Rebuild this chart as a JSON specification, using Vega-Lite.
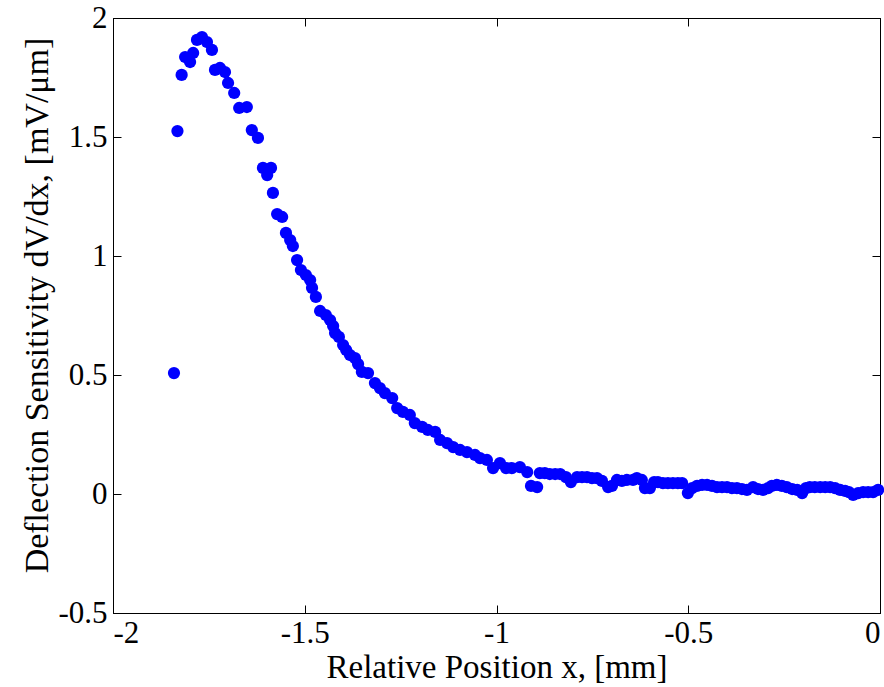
{
  "$schema": "https://vega.github.io/schema/vega-lite/v6.json",
  "width": 767,
  "height": 595,
  "autosize": "none",
  "padding": {"left": 113, "top": 18, "right": 4, "bottom": 74},
  "background": "white",
  "config": {
    "view": {"stroke": "black", "strokeWidth": 1},
    "font": "Liberation Serif",
    "axis": {
      "grid": false,
      "domainColor": "black",
      "tickColor": "black",
      "labelColor": "black",
      "titleColor": "black",
      "labelFont": "Liberation Serif",
      "titleFont": "Liberation Serif",
      "labelFontSize": 31,
      "titleFontSize": 33,
      "titleFontWeight": "normal",
      "tickSize": -8
    }
  },
  "data": {"values": [
    {"x": -1.841, "y": 0.508}, {"x": -1.832, "y": 1.525}, {"x": -1.821, "y": 1.761}, {"x": -1.812, "y": 1.836},
    {"x": -1.799, "y": 1.815}, {"x": -1.791, "y": 1.853}, {"x": -1.781, "y": 1.908}, {"x": -1.768, "y": 1.92},
    {"x": -1.755, "y": 1.899}, {"x": -1.742, "y": 1.866}, {"x": -1.734, "y": 1.782}, {"x": -1.721, "y": 1.79},
    {"x": -1.708, "y": 1.773}, {"x": -1.7, "y": 1.727}, {"x": -1.684, "y": 1.685}, {"x": -1.671, "y": 1.622},
    {"x": -1.651, "y": 1.626}, {"x": -1.638, "y": 1.529}, {"x": -1.622, "y": 1.496}, {"x": -1.609, "y": 1.37},
    {"x": -1.598, "y": 1.34}, {"x": -1.588, "y": 1.37}, {"x": -1.583, "y": 1.265}, {"x": -1.572, "y": 1.176},
    {"x": -1.559, "y": 1.164}, {"x": -1.549, "y": 1.097}, {"x": -1.538, "y": 1.067}, {"x": -1.531, "y": 1.042},
    {"x": -1.52, "y": 0.983}, {"x": -1.51, "y": 0.941}, {"x": -1.497, "y": 0.92}, {"x": -1.486, "y": 0.899},
    {"x": -1.481, "y": 0.866}, {"x": -1.471, "y": 0.828}, {"x": -1.46, "y": 0.769}, {"x": -1.445, "y": 0.752},
    {"x": -1.434, "y": 0.731}, {"x": -1.426, "y": 0.706}, {"x": -1.421, "y": 0.676}, {"x": -1.411, "y": 0.66},
    {"x": -1.4, "y": 0.626}, {"x": -1.392, "y": 0.605}, {"x": -1.382, "y": 0.584}, {"x": -1.369, "y": 0.571},
    {"x": -1.361, "y": 0.546}, {"x": -1.351, "y": 0.513}, {"x": -1.335, "y": 0.508}, {"x": -1.317, "y": 0.466},
    {"x": -1.304, "y": 0.445}, {"x": -1.291, "y": 0.424}, {"x": -1.272, "y": 0.403}, {"x": -1.259, "y": 0.361},
    {"x": -1.244, "y": 0.345}, {"x": -1.226, "y": 0.332}, {"x": -1.213, "y": 0.298}, {"x": -1.194, "y": 0.282},
    {"x": -1.179, "y": 0.269}, {"x": -1.16, "y": 0.261}, {"x": -1.147, "y": 0.227}, {"x": -1.129, "y": 0.214},
    {"x": -1.113, "y": 0.197}, {"x": -1.095, "y": 0.185}, {"x": -1.077, "y": 0.176}, {"x": -1.056, "y": 0.164},
    {"x": -1.043, "y": 0.151}, {"x": -1.025, "y": 0.143}, {"x": -1.009, "y": 0.109}, {"x": -0.991, "y": 0.13},
    {"x": -0.975, "y": 0.109}, {"x": -0.96, "y": 0.109}, {"x": -0.939, "y": 0.113}, {"x": -0.92, "y": 0.092},
    {"x": -0.91, "y": 0.034}, {"x": -0.894, "y": 0.029}, {"x": -0.887, "y": 0.088}, {"x": -0.874, "y": 0.088},
    {"x": -0.861, "y": 0.084}, {"x": -0.847, "y": 0.084}, {"x": -0.834, "y": 0.084}, {"x": -0.819, "y": 0.071},
    {"x": -0.806, "y": 0.05}, {"x": -0.79, "y": 0.071}, {"x": -0.777, "y": 0.071}, {"x": -0.764, "y": 0.071},
    {"x": -0.751, "y": 0.067}, {"x": -0.738, "y": 0.067}, {"x": -0.725, "y": 0.055}, {"x": -0.709, "y": 0.029},
    {"x": -0.699, "y": 0.034}, {"x": -0.686, "y": 0.059}, {"x": -0.673, "y": 0.055}, {"x": -0.66, "y": 0.059},
    {"x": -0.644, "y": 0.059}, {"x": -0.634, "y": 0.067}, {"x": -0.621, "y": 0.059}, {"x": -0.613, "y": 0.025},
    {"x": -0.6, "y": 0.025}, {"x": -0.589, "y": 0.05}, {"x": -0.579, "y": 0.05}, {"x": -0.566, "y": 0.046},
    {"x": -0.553, "y": 0.046}, {"x": -0.54, "y": 0.046}, {"x": -0.527, "y": 0.046}, {"x": -0.516, "y": 0.046},
    {"x": -0.501, "y": 0.004}, {"x": -0.49, "y": 0.025}, {"x": -0.477, "y": 0.034}, {"x": -0.464, "y": 0.038},
    {"x": -0.451, "y": 0.038}, {"x": -0.438, "y": 0.034}, {"x": -0.425, "y": 0.029}, {"x": -0.412, "y": 0.029},
    {"x": -0.399, "y": 0.029}, {"x": -0.386, "y": 0.025}, {"x": -0.373, "y": 0.025}, {"x": -0.36, "y": 0.021},
    {"x": -0.347, "y": 0.017}, {"x": -0.331, "y": 0.029}, {"x": -0.318, "y": 0.021}, {"x": -0.305, "y": 0.017},
    {"x": -0.292, "y": 0.025}, {"x": -0.282, "y": 0.034}, {"x": -0.269, "y": 0.038}, {"x": -0.256, "y": 0.034},
    {"x": -0.243, "y": 0.029}, {"x": -0.229, "y": 0.021}, {"x": -0.216, "y": 0.017}, {"x": -0.203, "y": 0.004},
    {"x": -0.193, "y": 0.025}, {"x": -0.183, "y": 0.029}, {"x": -0.17, "y": 0.029}, {"x": -0.156, "y": 0.029},
    {"x": -0.143, "y": 0.029}, {"x": -0.13, "y": 0.029}, {"x": -0.117, "y": 0.025}, {"x": -0.104, "y": 0.017},
    {"x": -0.091, "y": 0.013}, {"x": -0.081, "y": 0.008}, {"x": -0.07, "y": -0.004}, {"x": -0.057, "y": 0.004},
    {"x": -0.044, "y": 0.008}, {"x": -0.031, "y": 0.008}, {"x": -0.018, "y": 0.008}, {"x": -0.005, "y": 0.017}
  ]},
  "layer": [
    {
      "mark": {"type": "circle", "size": 150, "color": "#0000ff", "opacity": 1},
      "encoding": {
        "x": {
          "field": "x", "type": "quantitative",
          "scale": {"domain": [-2, 0], "nice": false, "zero": false},
          "axis": {
            "orient": "bottom",
            "values": [-2, -1.5, -1, -0.5, 0],
            "labelExpr": "datum.value < 0 ? '-' + format(-datum.value, '') : format(datum.value, '')",
            "labelPadding": 13,
            "title": "Relative Position x, [mm]",
            "titlePadding": 3
          }
        },
        "y": {
          "field": "y", "type": "quantitative",
          "scale": {"domain": [-0.5, 2], "nice": false, "zero": false},
          "axis": {
            "orient": "left",
            "values": [-0.5, 0, 0.5, 1, 1.5, 2],
            "labelExpr": "datum.value < 0 ? '-' + format(-datum.value, '') : format(datum.value, '')",
            "labelPadding": 14,
            "title": "Deflection Sensitivity dV/dx, [mV/\u03bcm]",
            "titleFontSize": 34,
            "titleY": 287,
            "titlePadding": 3
          }
        }
      }
    },
    {
      "mark": {"type": "circle", "opacity": 0},
      "encoding": {
        "x": {
          "field": "x", "type": "quantitative",
          "scale": {"domain": [-2, 0], "nice": false, "zero": false},
          "axis": {"orient": "top", "values": [-2, -1.5, -1, -0.5, 0], "labels": false, "title": null}
        },
        "y": {
          "field": "y", "type": "quantitative",
          "scale": {"domain": [-0.5, 2], "nice": false, "zero": false},
          "axis": {"orient": "right", "values": [-0.5, 0, 0.5, 1, 1.5, 2], "labels": false, "title": null}
        }
      }
    }
  ],
  "resolve": {"axis": {"x": "independent", "y": "independent"}}
}
